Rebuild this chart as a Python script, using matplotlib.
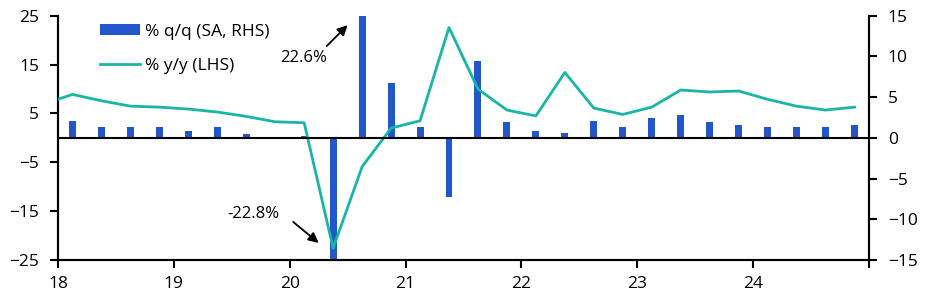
#!/usr/bin/python3

# q/q and y/y growth, quarterly, 2018-24

import matplotlib
matplotlib.use("Agg")
import matplotlib.pyplot as plt
import numpy as np

plt.rcParams['font.family'] = ['Open Sans', 'DejaVu Sans']
plt.rcParams['font.size'] = 12.5

BAR_COLOR = '#2257cc'
LINE_COLOR = '#19b6a6'

# quarters, 2017Q4 is only there so the line runs into the left edge
quarters = ['17Q4',
            '18Q1', '18Q2', '18Q3', '18Q4',
            '19Q1', '19Q2', '19Q3', '19Q4',
            '20Q1', '20Q2', '20Q3', '20Q4',
            '21Q1', '21Q2', '21Q3', '21Q4',
            '22Q1', '22Q2', '22Q3', '22Q4',
            '23Q1', '23Q2', '23Q3', '23Q4',
            '24Q1', '24Q2', '24Q3', '24Q4']

# % y/y (LHS)
yy = [6.9,
      8.9, 7.6, 6.5, 6.3,
      5.9, 5.3, 4.4, 3.3,
      3.1, -22.6, -5.9, 2.0,
      3.5, 22.6, 10.0, 5.7,
      4.5, 13.4, 6.1, 4.8,
      6.3, 9.8, 9.4, 9.6,
      7.9, 6.5, 5.7, 6.3]

# % q/q SA (RHS), no value for 2017Q4
qq = [None,
      2.1, 1.3, 1.4, 1.4,
      0.9, 1.3, 0.5, 0.0,
      0.2, -22.8, 22.6, 6.7,
      1.3, -7.2, 9.4, 1.9,
      0.8, 0.6, 2.1, 1.4,
      2.4, 2.8, 1.9, 1.6,
      1.4, 1.3, 1.3, 1.6]

year_ticks = [2018, 2019, 2020, 2021, 2022, 2023, 2024, 2025]
year_labels = ['18', '19', '20', '21', '22', '23', '24', '']


def quarter_pos(q):
    yr = 2000 + int(q[:2])
    n = int(q[3])
    return yr + (n - 0.5) / 4.0


def main():
    x = np.array([quarter_pos(q) for q in quarters])
    xb = np.array([quarter_pos(q) for q, v in zip(quarters, qq) if v is not None])
    vb = np.array([v for v in qq if v is not None])

    fig = plt.figure(figsize=(9.29, 2.98), dpi=100)
    ax = fig.add_axes([0.0624, 0.1275, 0.873, 0.8195])
    ax2 = ax.twinx()

    bars = ax2.bar(xb, vb, width=0.06, color=BAR_COLOR, zorder=2,
                   label='% q/q (SA, RHS)')
    line, = ax.plot(x, yy, color=LINE_COLOR, lw=2.0, zorder=3,
                    label='% y/y (LHS)')

    # line on top of bars
    ax.set_zorder(ax2.get_zorder() + 1)
    ax.patch.set_visible(False)

    ax.set_xlim(2018, 2025)
    ax.set_ylim(-25, 25)
    ax2.set_ylim(-15, 15)
    ax.set_yticks([-25, -15, -5, 5, 15, 25])
    ax2.set_yticks([-15, -10, -5, 0, 5, 10, 15])
    ax.set_xticks(year_ticks)
    ax.set_xticklabels(year_labels)

    ax.axhline(0, color='black', lw=1.5, zorder=4)

    for a in (ax, ax2):
        a.spines['top'].set_visible(False)
        for s in ('left', 'right', 'bottom'):
            a.spines[s].set_linewidth(1.5)
        a.tick_params(direction='out', length=5.5, width=1.5, colors='black',
                      labelsize=12.5)
    ax.tick_params(axis='x', pad=6)
    ax.tick_params(axis='y', pad=8)
    ax2.tick_params(axis='y', pad=8)

    # annotations, text and arrow placed separately
    ax.text(2020.12, 16.4, '22.6%', ha='center', va='center', fontsize=12)
    ax.annotate('', xy=(2020.50, 23.1), xytext=(2020.32, 18.8),
                arrowprops=dict(arrowstyle='-|>', color='black', lw=1.3,
                                shrinkA=0, shrinkB=0, mutation_scale=15))
    ax.text(2019.69, -15.6, '-22.8%', ha='center', va='center', fontsize=12)
    ax.annotate('', xy=(2020.25, -21.5), xytext=(2020.03, -17.2),
                arrowprops=dict(arrowstyle='-|>', color='black', lw=1.3,
                                shrinkA=0, shrinkB=0, mutation_scale=15))

    ax.legend([bars, line], [bars.get_label(), line.get_label()],
              loc='upper left', bbox_to_anchor=(0.108, 0.92),
              bbox_transform=fig.transFigure, borderaxespad=0, borderpad=0,
              frameon=False, handlelength=2.3, handleheight=0.6,
              handletextpad=0.3, labelspacing=1.05)

    fig.savefig('out.png', dpi=100)


if __name__ == "__main__":
    main()
